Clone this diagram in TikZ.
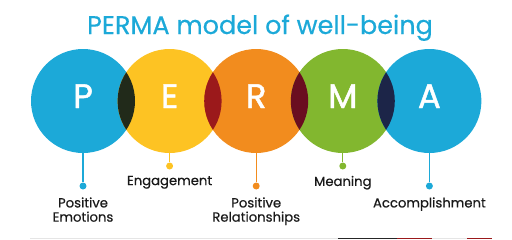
\documentclass[tikz,border=0pt]{standalone}
\usepackage{fontspec}
\setmainfont{Poppins}
\newfontfamily\medfont{Poppins}[FakeBold=0.5]
\newfontfamily\heavyfont{Poppins}[FakeBold=1.4]
\usepackage{tikz}
\usetikzlibrary{positioning}
\definecolor{PermaBlue}{RGB}{28,169,216}
\definecolor{PermaYellow}{RGB}{253,195,35}
\definecolor{PermaOrange}{RGB}{242,140,30}
\definecolor{PermaGreen}{RGB}{130,183,47}
\definecolor{OverlapPE}{RGB}{33,42,26}
\definecolor{OverlapER}{RGB}{155,25,27}
\definecolor{OverlapRM}{RGB}{106,14,32}
\definecolor{OverlapMA}{RGB}{28,37,72}
\definecolor{LabelDark}{RGB}{25,25,25}

\begin{document}
\begin{tikzpicture}[
    x=1pt, y=-1pt,
    petal/.style={circle, minimum size=104pt, inner sep=0pt},
    letter/.style={text=white, font=\heavyfont\fontsize{34}{34}\selectfont, anchor=base},
    stem/.style={line width=1.2pt},
    dot/.style={circle, minimum size=7pt, inner sep=0pt},
    lbl/.style={font=\medfont\fontsize{13.2}{14.2}\selectfont, align=center, inner sep=0pt, text=LabelDark}
]
\useasboundingbox (0,0) rectangle (512,239);

\node[anchor=base, text=PermaBlue, font=\medfont\fontsize{25.5}{25}\selectfont] (title) at (260,34) {PERMA model of well-being};

% the five circles
\node[petal, fill=PermaBlue] (p) at (83,101) {};
\node[petal, fill=PermaYellow] (e) at (169.6,101) {};
\node[petal, fill=PermaOrange] (r) at (256.2,101) {};
\node[petal, fill=PermaGreen] (m) at (342.8,101) {};
\node[petal, fill=PermaBlue] (a) at (429.4,101) {};

% overlaps
\begin{scope}
  \clip (p.center) circle (52pt);
  \fill[OverlapPE] (e.center) circle (52pt);
\end{scope}
\begin{scope}
  \clip (e.center) circle (52pt);
  \fill[OverlapER] (r.center) circle (52pt);
\end{scope}
\begin{scope}
  \clip (r.center) circle (52pt);
  \fill[OverlapRM] (m.center) circle (52pt);
\end{scope}
\begin{scope}
  \clip (m.center) circle (52pt);
  \fill[OverlapMA] (a.center) circle (52pt);
\end{scope}

\node[letter] (pl) at (83,108) {P};
\node[letter] (el) at (169.6,108) {E};
\node[letter] (rl) at (256.2,108) {R};
\node[letter] (ml) at (342.8,108) {M};
\node[letter] (al) at (429.4,108) {A};

% stems and dots
\node[dot, fill=PermaBlue] (pdot) at (83,186) {};
\node[dot, fill=PermaYellow] (edot) at (169.6,166) {};
\node[dot, fill=PermaOrange] (rdot) at (256.2,186) {};
\node[dot, fill=PermaGreen] (mdot) at (342.8,166) {};
\node[dot, fill=PermaBlue] (adot) at (429.4,186) {};

\draw[stem, PermaBlue] (p.south) -- (pdot);
\draw[stem, PermaYellow] (e.south) -- (edot);
\draw[stem, PermaOrange] (r.south) -- (rdot);
\draw[stem, PermaGreen] (m.south) -- (mdot);
\draw[stem, PermaBlue] (a.south) -- (adot);

% labels
\node[lbl, below=7.5pt of pdot] (plbl) {Positive\\Emotions};
\node[lbl, below=6pt of edot] (elbl) {Engagement};
\node[lbl, below=7.5pt of rdot] (rlbl) {Positive\\Relationships};
\node[lbl, below=6pt of mdot] (mlbl) {Meaning};
\node[lbl, below=7.5pt of adot] (albl) {Accomplishment};

% strip of the next picture
\fill[black!10] (30,237.6) rectangle (338,239);
\fill[black!85] (338,237.6) rectangle (397,239);
\fill[OverlapER] (397,237.6) rectangle (432,239);
\fill[black!10] (432,237.6) rectangle (467,239);
\fill[OverlapER] (467,237.6) rectangle (492,239);
\end{tikzpicture}
\end{document}
